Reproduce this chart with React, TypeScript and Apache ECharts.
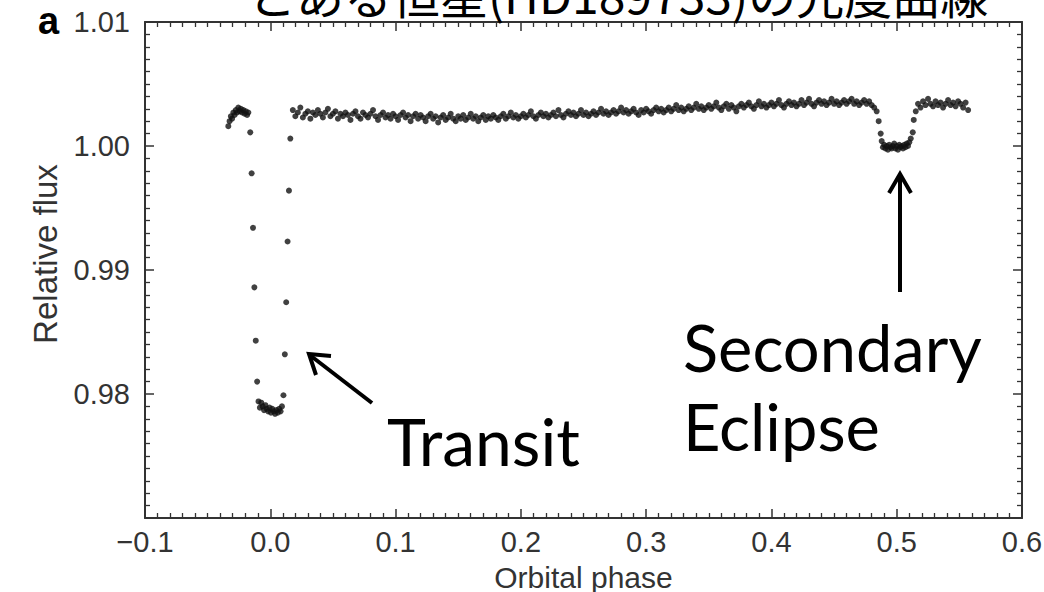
import React, { useEffect, useRef } from 'react';
import * as echarts from 'echarts';

// ---- data (orbital phase, relative flux) ----
const PRE_PHASE = [-0.0335, -0.0325, -0.0315, -0.0305, -0.0295, -0.0285, -0.0275, -0.0265, -0.0255, -0.0245, -0.0235, -0.0225, -0.0215, -0.0205, -0.0195, -0.0185, -0.0175];
const PRE_FLUX = [1.0016, 1.0020, 1.0024, 1.0022, 1.0027, 1.0025, 1.0029, 1.0027, 1.0031, 1.0028, 1.0030, 1.0027, 1.0029, 1.0026, 1.0028, 1.0025, 1.0027];

const INGRESS_PHASE = [-0.0160, -0.0149, -0.0138, -0.0127, -0.0116, -0.0105];
const INGRESS_FLUX = [1.0011, 0.9978, 0.9934, 0.9886, 0.9843, 0.9810];

const TRANSIT_PHASE = [-0.0094, -0.0083, -0.0072, -0.0061, -0.0050, -0.0039, -0.0028, -0.0017, -0.0006, 0.0005, 0.0016, 0.0027, 0.0038, 0.0049, 0.0060, 0.0071, 0.0082, 0.0093];
const TRANSIT_FLUX = [0.9794, 0.9789, 0.9793, 0.9790, 0.9787, 0.9791, 0.9788, 0.9786, 0.9789, 0.9785, 0.9788, 0.9786, 0.9784, 0.9787, 0.9785, 0.9788, 0.9786, 0.9790];

const EGRESS_PHASE = [0.0105, 0.0116, 0.0127, 0.0138, 0.0149, 0.0160];
const EGRESS_FLUX = [0.9799, 0.9832, 0.9874, 0.9923, 0.9964, 1.0006];

// out-of-transit baseline, sampled every 0.002 in phase from 0.018
const FLAT_START = 0.018;
const FLAT_STEP = 0.002;
const FLAT_FLUX = [
  1.0029, 1.0024, 1.0027, 1.0031, 1.0023, 1.0026, 1.0028, 1.0022, 1.0027, 1.0025,
  1.0029, 1.0026, 1.0023, 1.0027, 1.0030, 1.0024, 1.0026, 1.0028, 1.0022, 1.0026,
  1.0024, 1.0027, 1.0025, 1.0021, 1.0026, 1.0028, 1.0024, 1.0022, 1.0027, 1.0025,
  1.0023, 1.0026, 1.0029, 1.0024, 1.0021, 1.0025, 1.0027, 1.0023, 1.0025, 1.0022,
  1.0026, 1.0024, 1.0021, 1.0025, 1.0027, 1.0023, 1.0025, 1.0020, 1.0024, 1.0026,
  1.0022, 1.0025, 1.0023, 1.0020, 1.0024, 1.0026, 1.0022, 1.0024, 1.0019, 1.0023,
  1.0025, 1.0021, 1.0023, 1.0026, 1.0022, 1.0020, 1.0024, 1.0022, 1.0025, 1.0021,
  1.0023, 1.0026, 1.0022, 1.0024, 1.0020, 1.0023, 1.0025, 1.0021, 1.0024, 1.0022,
  1.0025, 1.0023, 1.0021, 1.0024, 1.0026, 1.0022, 1.0024, 1.0027, 1.0023, 1.0025,
  1.0022, 1.0024, 1.0026, 1.0023, 1.0025, 1.0028, 1.0024, 1.0022, 1.0025, 1.0027,
  1.0024, 1.0026, 1.0023, 1.0025, 1.0027, 1.0024, 1.0029, 1.0025, 1.0023, 1.0026,
  1.0028, 1.0025, 1.0027, 1.0024, 1.0026, 1.0029, 1.0025, 1.0027, 1.0024, 1.0026,
  1.0028, 1.0025, 1.0027, 1.0030, 1.0026, 1.0028, 1.0025, 1.0027, 1.0029, 1.0026,
  1.0028, 1.0031, 1.0027, 1.0029, 1.0026, 1.0028, 1.0030, 1.0027, 1.0025, 1.0029,
  1.0027, 1.0030, 1.0028, 1.0026, 1.0029, 1.0031, 1.0028, 1.0030, 1.0027, 1.0029,
  1.0031, 1.0028, 1.0030, 1.0033, 1.0029, 1.0031, 1.0028, 1.0030, 1.0032, 1.0029,
  1.0031, 1.0034, 1.0030, 1.0032, 1.0029, 1.0031, 1.0033, 1.0030, 1.0032, 1.0035,
  1.0031, 1.0029, 1.0032, 1.0034, 1.0030, 1.0033, 1.0031, 1.0028, 1.0032, 1.0034,
  1.0031, 1.0033, 1.0035, 1.0032, 1.0030, 1.0033, 1.0036, 1.0032, 1.0034, 1.0031,
  1.0033, 1.0035, 1.0032, 1.0034, 1.0037, 1.0033, 1.0031, 1.0034, 1.0036, 1.0033,
  1.0035, 1.0032, 1.0034, 1.0037, 1.0033, 1.0035, 1.0038, 1.0034, 1.0032, 1.0035,
  1.0037, 1.0034, 1.0036, 1.0033, 1.0035, 1.0038, 1.0034, 1.0036, 1.0033, 1.0035,
  1.0037, 1.0034, 1.0036, 1.0038, 1.0034, 1.0036, 1.0033, 1.0035, 1.0037, 1.0034,
  1.0036, 1.0033, 1.0031,
];

const ECL_IN_PHASE = [0.4840, 0.4856, 0.4872, 0.4880];
const ECL_IN_FLUX = [1.0028, 1.0020, 1.0010, 1.0004];

// secondary eclipse floor, every 0.001 from 0.489
const ECL_START = 0.489;
const ECL_STEP = 0.001;
const ECL_FLUX = [0.9999, 1.0001, 0.9998, 1.0000, 0.9997, 1.0001, 0.9999, 0.9998, 1.0000, 1.0002, 0.9998, 1.0000, 0.9997, 1.0001, 0.9999, 1.0000, 0.9998, 1.0001, 0.9999, 1.0002, 1.0000, 1.0003];

const ECL_OUT_PHASE = [0.5112, 0.5128, 0.5136, 0.5152];
const ECL_OUT_FLUX = [1.0006, 1.0011, 1.0021, 1.0028];

// after the eclipse, every 0.002 from 0.517
const POST_START = 0.517;
const POST_STEP = 0.002;
const POST_FLUX = [1.0034, 1.0031, 1.0036, 1.0033, 1.0038, 1.0034, 1.0032, 1.0036, 1.0033, 1.0035, 1.0031, 1.0034, 1.0037, 1.0033, 1.0035, 1.0032, 1.0036, 1.0034, 1.0031, 1.0035, 1.0029];

const X_MIN = -0.1, X_MAX = 0.6, X_STEP = 0.1;
const Y_MIN = 0.97, Y_MAX = 1.01, Y_STEP = 0.01;

const TITLE = 'とある恒星(HD189733)の光度曲線';

function pairs(xs: number[], ys: number[]) {
  return xs.map((x, i) => [x, ys[i]]);
}
function run(start: number, step: number, ys: number[]) {
  return ys.map((y, i) => [Number((start + i * step).toFixed(4)), y]);
}

const POINTS = [
  ...pairs(PRE_PHASE, PRE_FLUX),
  ...pairs(INGRESS_PHASE, INGRESS_FLUX),
  ...pairs(TRANSIT_PHASE, TRANSIT_FLUX),
  ...pairs(EGRESS_PHASE, EGRESS_FLUX),
  ...run(FLAT_START, FLAT_STEP, FLAT_FLUX),
  ...pairs(ECL_IN_PHASE, ECL_IN_FLUX),
  ...run(ECL_START, ECL_STEP, ECL_FLUX),
  ...pairs(ECL_OUT_PHASE, ECL_OUT_FLUX),
  ...run(POST_START, POST_STEP, POST_FLUX),
];

const AXIS_COLOR = '#333';
const LABEL_FONT = 'Liberation Sans';

function baseAxis(extra: any) {
  return {
    type: 'value',
    splitLine: { show: false },
    axisLine: { show: true, onZero: false, lineStyle: { color: AXIS_COLOR, width: 2 } },
    axisTick: { show: true, inside: true, length: 9, lineStyle: { color: AXIS_COLOR, width: 1.5 } },
    minorTick: { show: true, splitNumber: 10, length: 5, lineStyle: { color: AXIS_COLOR, width: 1.3 } },
    minorSplitLine: { show: false },
    ...extra,
  };
}

export default function App() {
  const ref = useRef<HTMLDivElement>(null);
  useEffect(() => {
    if (!ref.current) return;
    const chart = echarts.init(ref.current, undefined, { renderer: 'svg' });
    const labelStyle = { fontFamily: LABEL_FONT, fontSize: 29, color: '#333' };
    chart.setOption({
      animation: false,
      backgroundColor: '#fff',
      grid: { left: 145, right: 22, top: 22, bottom: 74, containLabel: false, outerBoundsMode: 'none' },
      xAxis: [
        baseAxis({
          position: 'bottom', min: X_MIN, max: X_MAX, interval: X_STEP,
          name: 'Orbital phase', nameLocation: 'middle', nameGap: 44,
          nameTextStyle: { fontFamily: LABEL_FONT, fontSize: 30, color: '#333' },
          axisLabel: {
            ...labelStyle, margin: 9,
            formatter: (v: number) => (Math.abs(v) < 1e-9 ? '0.0' : v.toFixed(1).replace('-', '\u2212')),
          },
        }),
        baseAxis({
          position: 'top', min: X_MIN, max: X_MAX, interval: X_STEP,
          axisLabel: { show: false },
        }),
      ],
      yAxis: [
        baseAxis({
          position: 'left', min: Y_MIN, max: Y_MAX, interval: Y_STEP,
          axisLabel: {
            ...labelStyle, margin: 15,
            formatter: (v: number) => (Math.abs(v - Y_MIN) < 1e-6 ? '' : v.toFixed(2)),
          },
        }),
        baseAxis({
          position: 'right', min: Y_MIN, max: Y_MAX, interval: Y_STEP,
          axisLabel: { show: false },
        }),
      ],
      series: [
        {
          type: 'scatter',
          xAxisIndex: 0,
          yAxisIndex: 0,
          data: POINTS,
          symbol: 'circle',
          symbolSize: 6,
          itemStyle: { color: '#111' },
        },
      ],
      graphic: [
        {
          type: 'text', x: 618, y: -7, z: 10,
          style: { text: TITLE, fontFamily: 'Noto Sans CJK JP', fontSize: 48, fill: '#000', align: 'center', verticalAlign: 'middle' },
        },
        {
          type: 'text', x: 38, y: 21, z: 10,
          style: { text: 'a', fontFamily: LABEL_FONT, fontWeight: 'bold', fontSize: 38, fill: '#000', align: 'left', verticalAlign: 'middle' },
        },
        {
          type: 'text', x: 45, y: 254, z: 10, rotation: Math.PI / 2,
          style: { text: 'Relative flux', fontFamily: LABEL_FONT, fontSize: 33, fill: '#333', align: 'center', verticalAlign: 'middle' },
        },
        {
          type: 'text', x: 387, y: 440, z: 10,
          style: { text: 'Transit', fontFamily: 'Lato', fontSize: 66, fill: '#000', align: 'left', verticalAlign: 'middle' },
        },
        {
          type: 'text', x: 683, y: 347, z: 10,
          style: { text: 'Secondary', fontFamily: 'Lato', fontSize: 65, fill: '#000', align: 'left', verticalAlign: 'middle' },
        },
        {
          type: 'text', x: 683, y: 426, z: 10,
          style: { text: 'Eclipse', fontFamily: 'Lato', fontSize: 65, fill: '#000', align: 'left', verticalAlign: 'middle' },
        },
        {
          type: 'line', z: 10,
          shape: { x1: 372, y1: 403, x2: 311, y2: 356 },
          style: { stroke: '#000', lineWidth: 4 },
        },
        {
          type: 'polyline', z: 10,
          shape: { points: [[316, 375], [309, 354], [331, 356]] },
          style: { stroke: '#000', lineWidth: 4, fill: 'none', lineJoin: 'miter' },
        },
        {
          type: 'line', z: 10,
          shape: { x1: 900, y1: 292, x2: 900, y2: 177 },
          style: { stroke: '#000', lineWidth: 4 },
        },
        {
          type: 'polyline', z: 10,
          shape: { points: [[889, 193], [900, 174], [911, 193]] },
          style: { stroke: '#000', lineWidth: 4, fill: 'none', lineJoin: 'miter' },
        },
      ],
    });
    return () => chart.dispose();
  }, []);
  return <div ref={ref} style={{ position: 'absolute', left: 0, top: 0, width: 1044, height: 592 }} />;
}
